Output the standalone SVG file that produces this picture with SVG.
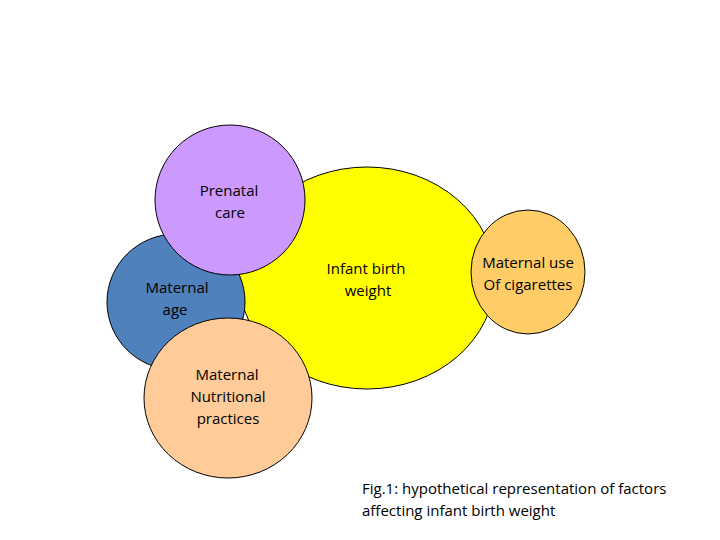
<svg xmlns="http://www.w3.org/2000/svg" width="720" height="540" viewBox="0 0 720 540">
<style>
.n{stroke:#000;stroke-width:1}
text{font-family:"Open Sans","Liberation Sans",sans-serif;font-size:15px;fill:#000;text-anchor:middle}
</style>
<rect width="720" height="540" fill="#fff"/>
<g id="infant"><ellipse class="n" cx="367" cy="278" rx="128" ry="111" fill="#ffff00"/>
<text x="366" y="274">Infant birth</text><text x="368" y="296">weight</text></g>
<g id="age"><ellipse class="n" cx="176" cy="302" rx="69" ry="68" fill="#4f81bd"/>
<text x="177" y="293">Maternal</text><text x="175" y="315">age</text></g>
<g id="prenatal"><circle class="n" cx="230" cy="200" r="75" fill="#cc99ff"/>
<text x="229" y="196">Prenatal</text><text x="230" y="218">care</text></g>
<g id="nutrition"><ellipse class="n" cx="228" cy="398" rx="84" ry="80" fill="#ffcc99"/>
<text x="227" y="380">Maternal</text><text x="228" y="402">Nutritional</text><text x="228" y="424">practices</text></g>
<g id="cigarettes"><ellipse class="n" cx="528" cy="272" rx="57" ry="62" fill="#ffcc66"/>
<text x="528" y="268">Maternal use</text><text x="528" y="290">Of cigarettes</text></g>
<g id="connectors"></g>
<text x="362" y="494" style="text-anchor:start">Fig.1: hypothetical representation of factors</text>
<text x="362" y="516" style="text-anchor:start">affecting infant birth weight</text>
</svg>
